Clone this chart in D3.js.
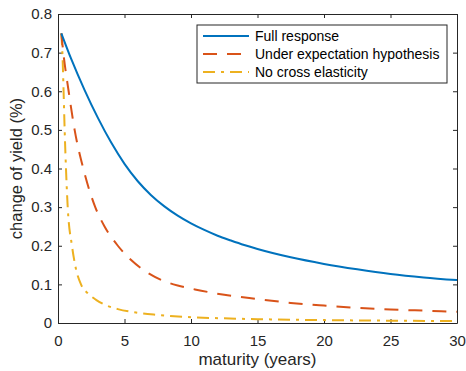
<!DOCTYPE html>
<html>
<head>
<meta charset="utf-8">
<script src="https://cdn.jsdelivr.net/npm/d3@7"></script>
<style>
  body { margin: 0; background: #fff; }
  svg { display: block; font-family: "Liberation Sans", Arial, sans-serif; }
  .axis path, .axis line { stroke: #262626; }
  .axis text { fill: #262626; font-size: 15px; }
</style>
</head>
<body>
<div id="chart"></div>
<script>
// values
const seriesNames = ['Full response', 'Under expectation hypothesis', 'No cross elasticity'];

const fullT = [0.25, 1, 2, 3, 4, 5, 6, 7, 8, 9, 10, 11, 12, 13, 14, 15, 17.5, 20, 22.5, 25, 27.5, 30];
const fullY = [0.75, 0.683, 0.603, 0.531, 0.467, 0.412, 0.367, 0.331, 0.302, 0.278, 0.258, 0.241, 0.226, 0.2135, 0.2018, 0.1915, 0.170, 0.153, 0.139, 0.127, 0.118, 0.111];

const underT = [0.25, 0.4, 0.8, 1.25, 1.9, 2.8, 3.5, 4.5, 5.5, 6.6, 8, 9, 10.3, 12.5, 15, 17.5, 20, 22.5, 25, 27.5, 30];
const underY = [0.75, 0.70, 0.60, 0.50, 0.40, 0.30, 0.25, 0.20, 0.163, 0.133, 0.108, 0.097, 0.087, 0.073, 0.062, 0.052, 0.045, 0.039, 0.035, 0.032, 0.029];

const noCrossT = [0.25, 0.33, 0.42, 0.5, 0.6, 0.73, 1.05, 1.35, 1.73, 2.3, 2.86, 3.6, 4.5, 5.86, 7.5, 10, 12.5, 15, 20, 25, 30];
const noCrossY = [0.75, 0.70, 0.60, 0.50, 0.40, 0.30, 0.20, 0.14, 0.10, 0.075, 0.06, 0.046, 0.036, 0.027, 0.021, 0.015, 0.012, 0.010, 0.0075, 0.006, 0.005];

const xTicks = [0, 5, 10, 15, 20, 25, 30];
const yTicks = [0, 0.1, 0.2, 0.3, 0.4, 0.5, 0.6, 0.7, 0.8];
const yTickLabels = ['0', '0.1', '0.2', '0.3', '0.4', '0.5', '0.6', '0.7', '0.8'];

const width = 466, height = 371;
const margin = { top: 14, right: 9, bottom: 48, left: 58 };
const plotW = width - margin.left - margin.right;
const plotH = height - margin.top - margin.bottom;

const svg = d3.select('#chart').append('svg')
  .attr('width', width)
  .attr('height', height);

const x = d3.scaleLinear().domain([0, 30]).range([0, plotW]);
const y = d3.scaleLinear().domain([0, 0.8]).range([plotH, 0]);

const g = svg.append('g')
  .attr('transform', `translate(${margin.left},${margin.top})`);

// axes, ticks pointing inwards like MATLAB
g.append('g')
  .attr('class', 'axis')
  .attr('transform', `translate(0,${plotH})`)
  .call(d3.axisBottom(x).tickValues(xTicks).tickSizeInner(-4).tickSizeOuter(0).tickPadding(12));

g.append('g')
  .attr('class', 'axis')
  .call(d3.axisTop(x).tickValues(xTicks).tickSizeInner(-4).tickSizeOuter(0).tickFormat(''));

g.append('g')
  .attr('class', 'axis')
  .call(d3.axisLeft(y).tickValues(yTicks).tickSizeInner(-4).tickSizeOuter(0).tickPadding(6)
    .tickFormat((d, i) => yTickLabels[i]));

g.append('g')
  .attr('class', 'axis')
  .attr('transform', `translate(${plotW},0)`)
  .call(d3.axisRight(y).tickValues(yTicks).tickSizeInner(-4).tickSizeOuter(0).tickFormat(''));

// curves
const series = [
  { name: seriesNames[0], t: fullT, v: fullY, color: '#0072BD', dash: null },
  { name: seriesNames[1], t: underT, v: underY, color: '#D95319', dash: '14,10' },
  { name: seriesNames[2], t: noCrossT, v: noCrossY, color: '#EDB120', dash: '12,6,3,6' }
];

const line = d3.line()
  .x(d => x(d[0]))
  .y(d => y(d[1]))
  .curve(d3.curveMonotoneX);

series.slice().reverse().forEach(s => {
  g.append('path')
    .datum(s.t.map((t, i) => [t, s.v[i]]))
    .attr('d', line)
    .attr('fill', 'none')
    .attr('stroke', s.color)
    .attr('stroke-width', 2)
    .attr('stroke-dasharray', s.dash);
});

// axis labels
svg.append('text')
  .attr('x', margin.left + plotW / 2)
  .attr('y', 365)
  .attr('text-anchor', 'middle')
  .attr('fill', '#262626')
  .style('font-size', '17px')
  .text('maturity (years)');

svg.append('text')
  .attr('transform', `translate(22,${margin.top + plotH / 2}) rotate(-90)`)
  .attr('text-anchor', 'middle')
  .attr('fill', '#262626')
  .style('font-size', '16.5px')
  .text('change of yield (%)');

// legend
const legend = svg.append('g').attr('transform', 'translate(197,25)');
legend.append('rect')
  .attr('width', 250)
  .attr('height', 58)
  .attr('fill', '#fff')
  .attr('stroke', '#262626')
  .attr('stroke-width', 1);

series.forEach((s, i) => {
  const row = legend.append('g').attr('transform', `translate(0,${11 + i * 18})`);
  row.append('line')
    .attr('x1', 6).attr('x2', 52)
    .attr('stroke', s.color)
    .attr('stroke-width', 2)
    .attr('stroke-dasharray', s.dash);
  row.append('text')
    .attr('x', 58)
    .attr('dy', '0.35em')
    .attr('fill', '#000')
    .style('font-size', '14px')
    .text(s.name);
});
</script>
</body>
</html>
